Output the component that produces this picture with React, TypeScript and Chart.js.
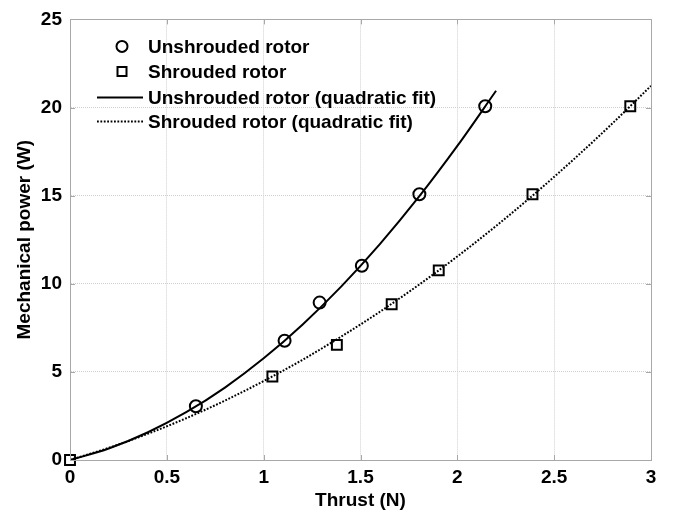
import React, { useEffect, useRef } from 'react';
import { Chart, registerables } from 'chart.js';
Chart.register(...registerables);

const seriesLabels = [
  'Unshrouded rotor',
  'Shrouded rotor',
  'Unshrouded rotor (quadratic fit)',
  'Shrouded rotor (quadratic fit)',
];
const unshroudedThrust = [0.65, 1.108, 1.289, 1.507, 1.804, 2.144];
const unshroudedPower = [3.05, 6.77, 8.93, 11.02, 15.08, 20.07];
const shroudedThrust = [0, 1.045, 1.378, 1.661, 1.904, 2.388, 2.893];
const shroudedPower = [0, 4.74, 6.53, 8.84, 10.76, 15.08, 20.07];
const unshroudedFitThrust = [0, 0.2, 0.4, 0.6, 0.8, 1.0, 1.2, 1.4, 1.6, 1.8, 2.0, 2.2];
const unshroudedFitPower = [0, 0.65, 1.56, 2.71, 4.11, 5.77, 7.68, 9.84, 12.25, 14.91, 17.82, 20.95];
const shroudedFitThrust = [0, 0.2, 0.4, 0.6, 0.8, 1.0, 1.2, 1.4, 1.6, 1.8, 2.0, 2.2, 2.4, 2.6, 2.8, 3.0];
const shroudedFitPower = [0, 0.69, 1.48, 2.37, 3.37, 4.48, 5.68, 7.0, 8.41, 9.93, 11.55, 13.28, 15.11, 17.05, 19.09, 21.23];
const xTicks = [0, 0.5, 1, 1.5, 2, 2.5, 3];
const yTicks = [0, 5, 10, 15, 20, 25];
const xTitle = 'Thrust (N)';
const yTitle = 'Mechanical power (W)';

const FONT = '"Liberation Sans", Arial, sans-serif';
const toPts = (xs: number[], ys: number[]) => xs.map((x, i) => ({ x, y: ys[i] }));

const boxPlugin = {
  id: 'boxAndTicks',
  afterDatasetsDraw(chart: any) {
    const { ctx, chartArea: a, scales } = chart;
    ctx.save();
    ctx.strokeStyle = '#a8a8a8';
    ctx.lineWidth = 1;
    ctx.setLineDash([]);
    ctx.beginPath();
    ctx.rect(Math.round(a.left) + 0.5, Math.round(a.top) + 0.5, Math.round(a.right - a.left), Math.round(a.bottom - a.top));
    ctx.stroke();
    const L = 5;
    ctx.beginPath();
    xTicks.forEach((t) => {
      const px = Math.round(scales.x.getPixelForValue(t)) + 0.5;
      ctx.moveTo(px, a.bottom); ctx.lineTo(px, a.bottom - L);
      ctx.moveTo(px, a.top); ctx.lineTo(px, a.top + L);
    });
    yTicks.forEach((t) => {
      const py = Math.round(scales.y.getPixelForValue(t)) + 0.5;
      ctx.moveTo(a.left, py); ctx.lineTo(a.left + L, py);
      ctx.moveTo(a.right, py); ctx.lineTo(a.right - L, py);
    });
    ctx.stroke();
    ctx.restore();
  },
  afterDraw(chart: any) {
    const { ctx, chartArea: a } = chart;
    const rows = [27, 52, 78, 102];
    ctx.save();
    ctx.font = `bold 19px ${FONT}`;
    ctx.fillStyle = '#000';
    ctx.textBaseline = 'middle';
    ctx.textAlign = 'left';
    chart.data.datasets.forEach((ds: any, i: number) => {
      const y = a.top + rows[i];
      ctx.strokeStyle = '#000';
      if (ds.showLine === false) {
        ctx.lineWidth = 2;
        ctx.setLineDash([]);
        ctx.beginPath();
        const cx = a.left + 52;
        if (ds.pointStyle === 'circle') {
          ctx.arc(cx, y, 5.5, 0, Math.PI * 2);
        } else {
          ctx.rect(cx - 4.5, y - 4.5, 9, 9);
        }
        ctx.stroke();
      } else {
        ctx.lineWidth = ds.borderWidth;
        ctx.setLineDash(ds.borderDash || []);
        ctx.beginPath();
        ctx.moveTo(a.left + 27, y);
        ctx.lineTo(a.left + 73, y);
        ctx.stroke();
      }
      ctx.setLineDash([]);
      ctx.fillText(ds.label, a.left + 78, y + 1);
    });
    ctx.restore();
  },
};

export default function App() {
  const ref = useRef<HTMLCanvasElement | null>(null);
  useEffect(() => {
    document.body.style.margin = '0';
    const canvas = ref.current!;
    const chart = new Chart(canvas, {
      type: 'scatter',
      data: {
        datasets: [
          {
            label: seriesLabels[0],
            data: toPts(unshroudedThrust, unshroudedPower),
            showLine: false,
            pointStyle: 'circle',
            pointRadius: 6,
            pointBorderWidth: 2,
            pointBorderColor: '#000',
            pointBackgroundColor: 'rgba(0,0,0,0)',
            clip: false,
          },
          {
            label: seriesLabels[1],
            data: toPts(shroudedThrust, shroudedPower),
            showLine: false,
            pointStyle: 'rect',
            pointRadius: 7,
            pointBorderWidth: 2,
            pointBorderColor: '#000',
            pointBackgroundColor: 'rgba(0,0,0,0)',
            clip: false,
          },
          {
            label: seriesLabels[2],
            data: toPts(unshroudedFitThrust, unshroudedFitPower),
            showLine: true,
            borderColor: '#000',
            borderWidth: 2,
            pointRadius: 0,
            cubicInterpolationMode: 'monotone',
          },
          {
            label: seriesLabels[3],
            data: toPts(shroudedFitThrust, shroudedFitPower),
            showLine: true,
            borderColor: '#000',
            borderWidth: 2,
            borderDash: [1.8, 1.6],
            pointRadius: 0,
            cubicInterpolationMode: 'monotone',
          },
        ],
      } as any,
      options: {
        animation: false,
        responsive: false,
        events: [],
        layout: { padding: { left: 0, top: 16, right: 22, bottom: 0 } },
        plugins: { legend: { display: false }, tooltip: { enabled: false } },
        scales: {
          x: {
            type: 'linear',
            min: 0,
            max: 3,
            afterBuildTicks: (s: any) => { s.ticks = xTicks.map((v) => ({ value: v })); },
            afterFit: (s: any) => { s.height = 54; },
            ticks: {
              color: '#000',
              font: { family: FONT, size: 19, weight: 'bold' },
              padding: 6,
              maxRotation: 0,
              autoSkip: false,
              callback: (v: any) => String(v),
            },
            grid: { color: '#cfcfcf', drawTicks: false, lineWidth: 1 },
            border: { display: true, color: '#a8a8a8', dash: [1, 1] },
            title: {
              display: true,
              text: xTitle,
              color: '#000',
              font: { family: FONT, size: 19, weight: 'bold' },
              padding: { top: 0, bottom: 2 },
            },
          },
          y: {
            type: 'linear',
            min: 0,
            max: 25,
            afterBuildTicks: (s: any) => { s.ticks = yTicks.map((v) => ({ value: v })); },
            afterFit: (s: any) => { s.width = 70; },
            ticks: {
              color: '#000',
              font: { family: FONT, size: 19, weight: 'bold' },
              padding: 8,
              autoSkip: false,
              callback: (v: any) => String(v),
            },
            grid: { color: '#cfcfcf', drawTicks: false, lineWidth: 1 },
            border: { display: true, color: '#a8a8a8', dash: [1, 1] },
            title: {
              display: true,
              text: yTitle,
              color: '#000',
              font: { family: FONT, size: 19, weight: 'bold' },
              padding: { top: 13, bottom: 0 },
            },
          },
        },
      } as any,
      plugins: [boxPlugin],
    });
    return () => chart.destroy();
  }, []);
  return (
    <div style={{ width: 673, height: 514 }}>
      <canvas ref={ref} width={673} height={514} style={{ display: 'block' }} />
    </div>
  );
}
